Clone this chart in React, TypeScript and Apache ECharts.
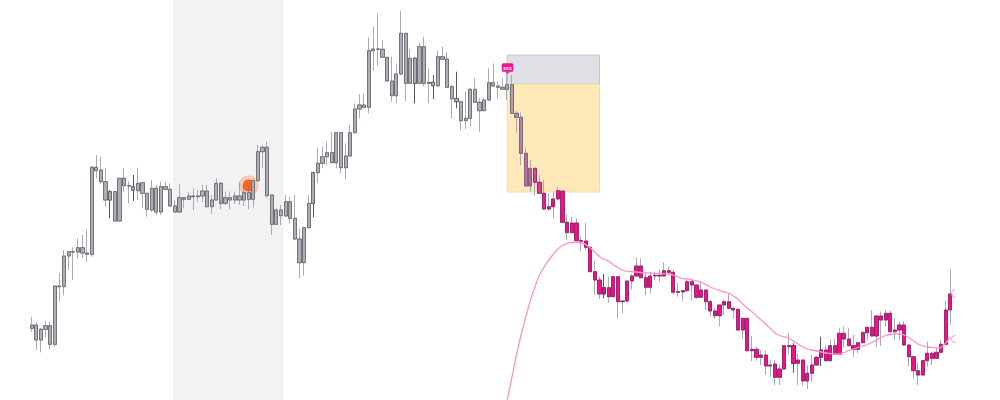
import React, { useEffect, useRef } from "react";
import * as echarts from "echarts";

// [open, close, low, high]
const candles: number[][] = [
[71.7,75,68.3,83.3],[75,60,50,78.3],[60,70.7,47.7,72],[70.7,74.3,62.3,79.3],[74.3,55.7,50.7,78.3],
[55.7,114,53.3,114],[114,113.3,98.3,126.7],[113.3,144,104.7,150],[144,148.3,130,149],[148.3,148,120,152.7],
[148,152.3,141,161.7],[152.3,147,141.7,165],[147,145.7,137.7,170],[145.7,232.7,143.3,234],[232.7,229.3,221.7,245],
[230,218.3,216,243.3],[218.3,200,193.3,231.7],[200,208.3,181.7,210],[208.3,179,178.3,208.3],[179,221.7,178.3,221.7],
[221.7,214.3,208.3,231.7],[214.3,214,196.7,218.3],[213.3,210,199,225],[209.3,216.7,200,232.3],[217.3,206.7,191.7,217.3],
[206.7,190.7,183.3,206.7],[190,211.7,188.3,220],[211.7,188,185,215],[188,213.3,185,218.3],[213.3,210.7,210,218.3],
[210.7,194,193.3,216.7],[194,188,187.7,200],[188,202.3,187.7,215.7],[202.3,200.7,191.7,202.7],[200.7,204,200,208.3],
[204,203.3,190,211.7],[203.3,204,198.3,210],[204,209,198.3,215],[209,193.3,192.7,215],[193.3,200,186,205],
[200,216.7,199.3,221.7],[216.7,196.7,190.7,218.3],[196.7,202.3,195,208.3],[202.3,200,190.7,208.3],[200,204,196,208.3],
[204,200,195,218.3],[200,207.3,194,213.3],[207.3,200.7,190.7,215],[200.7,219.3,192.7,221.7],[219.3,248.3,218.3,255],
[248.3,252.7,231.7,255],[252.7,204.3,202.3,258.3],[205,175.7,165,205],[175.7,190,175,191.7],[190,184.3,175,195],
[184,198.3,183.3,205],[198.3,181.7,176.7,203.3],[181.7,161,160,205],[161,137.3,121.7,171.7],[137.3,172.3,124.3,173.3],
[172.3,196.7,171.7,205],[196.7,227.3,182.7,228.3],[227.3,236.7,216.7,251.7],[236.7,243.3,231.7,253.3],[243.3,247.3,235,258],
[247.3,237.3,236.7,268.3],[237.3,267.3,231.7,268.3],[267.3,232.3,226.7,267.3],[232.3,244,220.7,256.7],[244,267.3,243.3,275],
[267.3,291,266.7,296.7],[291,295,281.7,306],[295,292.7,291.7,306.7],[292.7,349.3,286.7,362.7],[349.3,351,329.3,373.3],
[351,350.7,334.3,386],[350.7,342.7,342.7,360],[342.7,319,318.3,342.7],[319,304.3,298.3,343.3],[304.3,326,296.7,336.7],
[326,366.7,325,389.3],[366.7,316.7,299.3,366.7],[316.7,341.7,316,350.7],[341.7,316.7,296.7,342.7],[316.7,353.3,316,357.3],
[353.3,316.7,314,363.3],[316.7,317.7,296.7,331.7],[317.7,314.3,301,325],[314.3,343.3,312.7,349.3],[343.3,340.7,340,353.3],
[341,312.7,312.3,348.3],[313.3,301.3,281.7,315],[301.3,298.3,291.7,328.3],[298.3,279.3,270,298.3],[279.3,281.7,271,308.3],
[281.7,310.7,273.3,312.3],[310.7,297.7,297.3,321.7],[297.7,289.3,268.3,301.7],[289.3,300,289,301.7],[300,317.3,299.3,331.7],
[317.3,314,313.3,336.7],[314,312.7,301.7,318.3],[312.7,310.7,310,321.7],[310.7,315.3,300,326.7],[315.3,286.7,286.7,325],
[286.7,282.7,267.3,289],[282.7,246.7,235,287.7],[246.7,214,213.3,252.7],[214,231.7,208.3,240],[231.7,217.7,204.3,231.7],
[217.7,206.7,206,225],[206.7,191,190,220],[191,193.3,189.3,206.7],[193.3,201,181.7,208.3],[201,209.3,200.7,212.7],
[209,177.7,177.3,209],[177.7,167.3,160,186],[167.3,177,166.7,183.3],[177,159.3,158.3,181.7],[159.3,158.7,149,163.3],
[159,152.7,150,177.3],[152.7,128.3,128,153.3],[128.3,120,105,139.3],[120,106,101,123.3],[106,112.3,101.7,126],
[112.3,103.3,97.3,123.3],[103.3,123.3,102.7,123.3],[123.3,98.3,81.7,123.3],[98.3,99,86.7,99],[99,119,97.7,119],
[119,124,110.7,126],[124,134,123.3,142.3],[134,122.3,122.3,141.7],[122.3,112.7,105,126.7],[112.7,124,106.7,128.3],
[124,124.7,120,128.3],[124.7,124,118.3,130.7],[124,129.3,123.3,137.7],[129.3,127.7,125,133.3],[127.7,107.7,105.7,130],
[107.7,108.3,103.3,116.7],[108,109.3,99.3,110],[109.3,118.3,108.3,120],[118.3,115,100,121.7],[115,102.7,101,115],
[102.7,110,102.3,118.3],[110,98.3,90,110],[98.3,89,83.3,100],[89,84.3,81,91.7],[84.3,95,74,95],
[95,98.3,85,100.7],[98.3,91.7,91.7,106.7],[91.7,90,81.7,92.7],[90.7,70,69.3,90.7],[70,81.7,61,81.7],
[81.7,49.3,48.7,81.7],[49.3,50.7,39,64],[50.7,42.7,39.3,53.3],[42.7,45,35,50],[45,34,25,49.3],
[34,35,23.3,40.7],[36,22.7,15,40],[22.7,31,15,36],[31,54.3,30,54.3],[54.3,53.3,46,67.3],
[54.3,36.7,27.3,56.7],[36.7,40,15,46],[40,19,14,40],[19,26.7,11,35],[26.7,35,18.3,45],
[35,42.7,34.3,44],[42.7,50,34,63.3],[50,39.3,38.3,55],[39.3,54.3,38.3,60.7],[54.3,45.7,45,60.7],
[45.7,66.7,45,71.7],[66.7,61,52.7,73.3],[61,54.3,54,71.7],[54.3,50.7,43.3,65],[50.7,57.3,46.7,57.3],
[57.3,67.3,56.7,69.3],[67.3,72.7,60,73.3],[72.7,64,63.3,90],[64,84,53,85],[84,80,54,88.3],
[80,86.7,73.3,90],[86.7,68.3,67.7,89.3],[68.3,70,60,81.7],[70,75,60,78.3],[75,55,54.3,79],
[55,43.3,34,55],[43.3,29.3,21.7,43.3],[29.3,25,15,36.7],[25,39.3,24.3,40],[39.3,46.7,33.3,58.3],
[46.7,41.7,35,48.3],[41.7,47.7,41,51.7],[47.7,55.7,46.7,60],[55.7,90,55,99.3],[90,106,75,130.7],
];

// moving average, from candle 103 on
const maStart = 103;
const maValues = [
0,22,45,65,83,99,113,125,133,140,146,151,154.5,156.7,157.5,157.7,157,155.5,152,148,143.5,140.5,139,135,132.5,129.5,
128.7,128.3,128,127.5,127.2,127,126.7,126.5,126.2,126,125,123,121.5,121,120,119.2,118,115.5,113,111,109.5,108,107,
104,101,96,92,88.5,84,80,76,71.5,67,64.5,63.2,62,59,56,53,51,50,49,48,47,46.5,46,46,47.5,49.5,51,52.5,54,55.5,57.5,60,
62.5,64.5,65.5,66,66,65,62.5,59,56,54,53,52.5,52,52.5,57,63,
];
const edgeRings = [106.5, 61];
const flagText = "xxx";
const boxFrom = 103;
const boxTo = 123;
const boxTop = 345;
const boxEntry = 316;
const boxBottom = 208;
const hitIndex = 47;
const hitValue = 214.5;
const darkWicks = [17, 22, 61, 83, 87, 92, 124, 165, 171];

const categories = Array.from({ length: candles.length + 1 }, (_, i) => String(i));

const GREY = [172, 174, 182];
const PINK = [240, 16, 138];
const mix = (t: number) => {
  const c = GREY.map((g, k) => Math.round(g + (PINK[k] - g) * t));
  return `rgb(${c[0]},${c[1]},${c[2]})`;
};
const blend = (i: number) => Math.max(0, Math.min(1, (i - 103) / 9));

export default function App() {
  const ref = useRef<HTMLDivElement>(null);
  useEffect(() => {
    document.body.style.margin = "0";
    const chart = echarts.init(ref.current!, undefined, { renderer: "svg" });
    const wickItems = candles.map((d, i) => {
      const col = darkWicks.includes(i) ? "#55555f" : "#aaaaaf";
      return { value: d, itemStyle: { color: col, color0: col, borderColor: col, borderColor0: col, borderColorDoji: col, borderWidth: 1 } };
    });
    const bodyItems = candles.map((d, i) => {
      const fill = mix(blend(i));
      const edge = blend(i) > 0.6 ? "#8f1a62" : "#63636d";
      return {
        value: [d[0], d[1], Math.min(d[0], d[1]), Math.max(d[0], d[1])],
        itemStyle: { color: fill, color0: fill, borderColor: edge, borderColor0: edge, borderColorDoji: edge, borderWidth: 0.8 },
      };
    });
    const ma = maValues.map((v, k) => [maStart + k, v]);
    chart.setOption({
      animation: false,
      tooltip: { show: false },
      legend: { show: false },
      grid: { left: 29.39, top: 0, width: 927.9, height: 400, containLabel: false },
      xAxis: { type: "category", data: categories, show: false, boundaryGap: true },
      yAxis: { type: "value", min: 0, max: 400, show: false, splitLine: { show: false } },
      graphic: [
        { type: "rect", z: -10, shape: { x: 173, y: 0, width: 110.5, height: 400 }, style: { fill: "#f2f2f2" } },
        { type: "rect", z: 50, shape: { x: 955.2, y: 0, width: 45, height: 400 }, style: { fill: "#ffffff" } },
        {
          type: "group", z: 40, children: [
            { type: "rect", z: 40, shape: { x: 501.7, y: 63.3, width: 11.6, height: 8.4, r: 1.5 }, style: { fill: "#f5128f" } },
            { type: "polygon", z: 40, shape: { points: [[505, 71.5], [510, 71.5], [507.5, 74]] }, style: { fill: "#f5128f" } },
            { type: "text", z: 41, x: 507.5, y: 67.5, style: { text: flagText, fill: "#ffffff", font: "bold 5px 'Liberation Sans', sans-serif", textAlign: "center", textVerticalAlign: "middle" } },
          ],
        },
      ],
      series: [
        {
          type: "candlestick", z: 1, name: "wicks", barWidth: 3.7, data: wickItems, silent: true,
          markArea: {
            silent: true,
            z: 0,
            data: [
              [
                { xAxis: boxFrom, yAxis: boxEntry, itemStyle: { color: "#dfe0e5", borderColor: "#c6c7cc", borderWidth: 1 } },
                { xAxis: boxTo, yAxis: boxTop },
              ],
              [
                { xAxis: boxFrom, yAxis: boxBottom, itemStyle: { color: "#ffe9b9", borderColor: "#f3dca8", borderWidth: 1 } },
                { xAxis: boxTo, yAxis: boxEntry },
              ],
            ],
          },
        },
        { type: "scatter", z: 2, silent: true, symbolSize: 20, data: [[hitIndex, hitValue]], itemStyle: { color: "rgba(245,130,70,0.45)" } },
        { type: "scatter", z: 2, silent: true, symbolSize: 12, data: [[hitIndex, hitValue]], itemStyle: { color: "#e64f08" } },
        { type: "candlestick", z: 3, name: "bodies", barWidth: 3.7, data: bodyItems, silent: true },
        {
          type: "line", z: 4, name: "ma", data: ma, showSymbol: false, smooth: 0.2, silent: true,
          lineStyle: { color: "#ff92cb", width: 1.3 }, itemStyle: { color: "#ff92cb" }, clip: true,
        },
        {
          type: "scatter", z: 4, silent: true, symbol: "circle", symbolSize: 7,
          data: edgeRings.map((v) => [candles.length, v]),
          itemStyle: { color: "transparent", borderColor: "#ff92cb", borderWidth: 1.2 },
        },
      ],
    });
    return () => chart.dispose();
  }, []);
  return <div ref={ref} style={{ display: "block", width: 1000, height: 400, background: "#ffffff" }} />;
}
